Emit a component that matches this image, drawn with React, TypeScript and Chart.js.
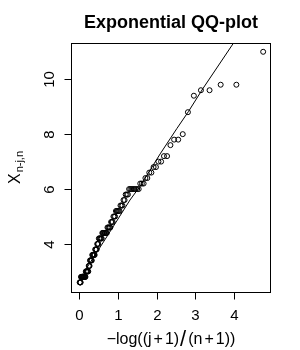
import React, { useEffect, useRef } from "react";
import { Chart, registerables } from "chart.js";

Chart.register(...registerables);

// ---- data ----
const sampleSize = 115;
// ordered sample X_{n-j,n}, j = 0..n-1 (descending)
const orderStats = [
  11.0, 9.8, 9.8, 9.6, 9.6, 9.4, 8.8, 8.0, 7.8, 7.8,
  7.6, 7.2, 7.2, 7.0, 7.0, 6.8, 6.8, 6.6, 6.6, 6.4,
  6.4, 6.2, 6.2, 6.2, 6.0, 6.0, 6.0, 6.0, 6.0, 6.0,
  6.0, 6.0, 5.8, 5.8, 5.8, 5.6, 5.6, 5.4, 5.4, 5.4,
  5.2, 5.2, 5.2, 5.2, 5.2, 5.0, 5.0, 5.0, 4.8, 4.8,
  4.8, 4.6, 4.6, 4.6, 4.6, 4.6, 4.4, 4.4, 4.4, 4.4,
  4.4, 4.4, 4.4, 4.4, 4.2, 4.2, 4.2, 4.2, 4.2, 4.2,
  4.0, 4.0, 4.0, 3.8, 3.8, 3.8, 3.8, 3.6, 3.6, 3.6,
  3.6, 3.6, 3.6, 3.4, 3.4, 3.4, 3.4, 3.4, 3.2, 3.2,
  3.2, 3.0, 3.0, 3.0, 3.0, 3.0, 3.0, 3.0, 2.8, 2.8,
  2.8, 2.8, 2.8, 2.8, 2.8, 2.8, 2.8, 2.8, 2.8, 2.8,
  2.8, 2.6, 2.6, 2.6, 2.6,
];
// reference line drawn over the points
const lineX = [0.02, 0.66, 1.31, 1.57, 2.09, 2.52, 2.82, 3.2, 4.05];
const lineY = [2.75, 4.15, 5.6, 6.1, 7.28, 8.2, 8.82, 9.67, 11.45];
const xTicks = [0, 1, 2, 3, 4];
const yTicks = [4, 6, 8, 10];
const titleText = "Exponential QQ-plot";

const FONT = '"Liberation Sans", Arial, sans-serif';

const rAxesPlugin = {
  id: "rAxes",
  afterDraw(chart: any) {
    const { ctx, chartArea: a, scales } = chart;
    const xs = scales.x;
    const ys = scales.y;
    ctx.save();
    ctx.strokeStyle = "#000";
    ctx.fillStyle = "#000";
    ctx.lineWidth = 1;
    const L = Math.round(a.left) + 0.5;
    const T = Math.round(a.top) + 0.5;
    const R = Math.round(a.right) - 0.5;
    const B = Math.round(a.bottom) + 0.5;
    ctx.strokeRect(L, T, R - L, B - T);

    // x axis
    ctx.font = `15px ${FONT}`;
    ctx.textAlign = "center";
    ctx.textBaseline = "alphabetic";
    xTicks.forEach((v) => {
      const px = Math.round(xs.getPixelForValue(v)) + 0.5;
      ctx.beginPath();
      ctx.moveTo(px, B);
      ctx.lineTo(px, B + 7);
      ctx.stroke();
      ctx.fillText(String(v), px, 320);
    });

    // y axis
    yTicks.forEach((v) => {
      const py = Math.round(ys.getPixelForValue(v)) + 0.5;
      ctx.beginPath();
      ctx.moveTo(L - 7, py);
      ctx.lineTo(L, py);
      ctx.stroke();
      ctx.save();
      ctx.translate(54, py);
      ctx.rotate(-Math.PI / 2);
      ctx.fillText(String(v), 0, 0);
      ctx.restore();
    });

    // title
    ctx.font = `bold 18px ${FONT}`;
    ctx.textAlign = "center";
    ctx.fillText(titleText, (a.left + a.right) / 2, 28);

    // y title: X_{n-j,n}
    const cy = (a.top + a.bottom) / 2;
    ctx.font = `16px ${FONT}`;
    const wX = ctx.measureText("X").width;
    ctx.font = `11px ${FONT}`;
    const wS = ctx.measureText("n-j,n").width;
    const total = wX + 1 + wS;
    ctx.save();
    ctx.translate(19.5, cy);
    ctx.rotate(-Math.PI / 2);
    ctx.textAlign = "left";
    ctx.font = `16px ${FONT}`;
    ctx.fillText("X", -total / 2, 0);
    ctx.font = `11px ${FONT}`;
    ctx.fillText("n-j,n", -total / 2 + wX + 1, 3.5);
    ctx.restore();

    // x title: -log((j+1)/(n+1))
    const parts: { t: string; size: number; gap: number; dy: number }[] = [
      { t: "\u2212log((j", size: 16, gap: 2, dy: 0 },
      { t: "+", size: 16, gap: 2, dy: 0 },
      { t: "1)", size: 16, gap: 1, dy: 0 },
      { t: "/", size: 22, gap: 2, dy: 2 },
      { t: "(n", size: 16, gap: 2, dy: 0 },
      { t: "+", size: 16, gap: 2, dy: 0 },
      { t: "1))", size: 16, gap: 0, dy: 0 },
    ];
    let tw = 0;
    const widths = parts.map((p) => {
      ctx.font = `${p.size}px ${FONT}`;
      const w = ctx.measureText(p.t).width;
      tw += w + p.gap;
      return w;
    });
    let x0 = (a.left + a.right) / 2 - tw / 2;
    ctx.textAlign = "left";
    parts.forEach((p, i) => {
      ctx.font = `${p.size}px ${FONT}`;
      ctx.fillText(p.t, x0, 343.5 + p.dy);
      x0 += widths[i] + p.gap;
    });
    ctx.restore();
  },
};

export default function App() {
  const ref = useRef<HTMLCanvasElement | null>(null);
  useEffect(() => {
    if (!ref.current) return;
    const quantiles = orderStats.map((_, j) => -Math.log((j + 1) / (sampleSize + 1)));
    const chart = new Chart(ref.current, {
      type: "scatter",
      data: {
        datasets: [
          {
            label: "points",
            data: orderStats.map((y, j) => ({ x: quantiles[j], y })),
            pointRadius: 2.5,
            pointBorderWidth: 1,
            pointBorderColor: "#000",
            pointBackgroundColor: "rgba(0,0,0,0)",
            showLine: false,
          },
          {
            label: "line",
            data: lineX.map((x, i) => ({ x, y: lineY[i] })),
            showLine: true,
            pointRadius: 0,
            borderColor: "#000",
            borderWidth: 1,
            fill: false,
          },
        ],
      },
      options: {
        animation: false,
        responsive: false,
        devicePixelRatio: 1,
        layout: { padding: { left: 71, right: 29, top: 43, bottom: 58 } },
        plugins: { legend: { display: false }, tooltip: { enabled: false }, title: { display: false } },
        scales: {
          x: { type: "linear", display: false, min: -0.215, max: 4.956 },
          y: { type: "linear", display: false, min: 2.25, max: 11.32 },
        },
      },
      plugins: [rAxesPlugin],
    });
    return () => chart.destroy();
  }, []);
  return (
    <div style={{ position: "absolute", left: 0, top: 0, width: 300, height: 350, background: "#fff" }}>
      <canvas ref={ref} width={300} height={350} style={{ display: "block", width: 300, height: 350 }} />
    </div>
  );
}
